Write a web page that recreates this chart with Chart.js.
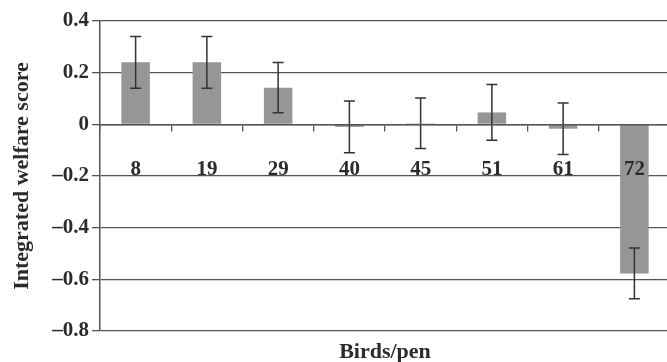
<!DOCTYPE html>
<html>
<head>
<meta charset="utf-8">
<script src="https://cdn.jsdelivr.net/npm/chart.js@4"></script>
<style>
  html, body { margin: 0; padding: 0; background: #fff; overflow: hidden; }
  #wrap { width: 672px; height: 362px; }
</style>
</head>
<body>
<div id="wrap"><canvas id="chart"></canvas></div>
<script>
// Birds per pen and integrated welfare score (mean ± SE)
const categories = ['8', '19', '29', '40', '45', '51', '61', '72'];
const means = [0.24, 0.24, 0.142, -0.01, 0.004, 0.046, -0.017, -0.577];
const errors = [0.10, 0.10, 0.097, 0.10, 0.098, 0.108, 0.10, 0.098];
const yTicks = [0.4, 0.2, 0, -0.2, -0.4, -0.6, -0.8];

const FONT = { family: '"Liberation Serif", "Times New Roman", serif', size: 21, weight: 'bold' };
const TITLE_FONT = { family: '"Liberation Serif", "Times New Roman", serif', size: 22, weight: 'bold' };
const TEXT = '#2b2b2b';
const LINE = '#555';

// Draw error bars from the errors array
const errorBars = {
  id: 'errorBars',
  afterDatasetsDraw(chart) {
    const { ctx, scales: { x, y } } = chart;
    ctx.save();
    ctx.strokeStyle = '#333';
    ctx.lineWidth = 1.5;
    means.forEach((m, i) => {
      const cx = x.getPixelForValue(i);
      const top = y.getPixelForValue(m + errors[i]);
      const bot = y.getPixelForValue(m - errors[i]);
      ctx.beginPath();
      ctx.moveTo(cx, top); ctx.lineTo(cx, bot);
      ctx.moveTo(cx - 5.5, top); ctx.lineTo(cx + 5.5, top);
      ctx.moveTo(cx - 5.5, bot); ctx.lineTo(cx + 5.5, bot);
      ctx.stroke();
    });
    ctx.restore();
  }
};

new Chart(document.getElementById('chart'), {
  type: 'bar',
  data: {
    labels: categories,
    datasets: [{
      data: means,
      backgroundColor: '#969696',
      borderWidth: 0,
      barPercentage: 0.4,
      categoryPercentage: 1.0
    }]
  },
  options: {
    responsive: true,
    maintainAspectRatio: false,
    animation: false,
    layout: { padding: { top: 21, right: 0, bottom: 0, left: 0 } },
    plugins: { legend: { display: false }, tooltip: { enabled: false } },
    scales: {
      x: {
        position: { y: 0 },
        offset: true,
        grid: { display: true, drawOnChartArea: false, offset: true, tickLength: 6, color: LINE, lineWidth: 1.3 },
        border: { display: true, color: LINE, width: 1.5, z: 1 },
        ticks: { font: FONT, color: TEXT, padding: 27, maxRotation: 0, autoSkip: false, z: 1 }
      },
      x2: {
        type: 'category',
        labels: categories,
        position: 'bottom',
        afterFit(scale) { scale.height = 31; },
        grid: { display: false },
        border: { display: false },
        ticks: { display: false },
        title: { display: true, text: 'Birds/pen', font: TITLE_FONT, color: TEXT, padding: { top: 0, bottom: -4 } }
      },
      y: {
        min: -0.8,
        max: 0.4,
        afterFit(scale) { scale.width = 100; },
        afterBuildTicks(scale) { scale.ticks = yTicks.map(v => ({ value: v })); },
        grid: { color: LINE, lineWidth: 1.3, tickLength: 8 },
        border: { display: true, color: LINE, width: 1.5 },
        ticks: {
          font: FONT, color: TEXT, padding: 3,
          callback: v => v === 0 ? '0' : (v < 0 ? '\u2013' + Math.abs(v).toFixed(1) : v.toFixed(1))
        },
        title: { display: true, text: 'Integrated welfare score', font: TITLE_FONT, color: TEXT, padding: { top: 9, bottom: 0 } }
      }
    }
  },
  plugins: [errorBars]
});
</script>
</body>
</html>
